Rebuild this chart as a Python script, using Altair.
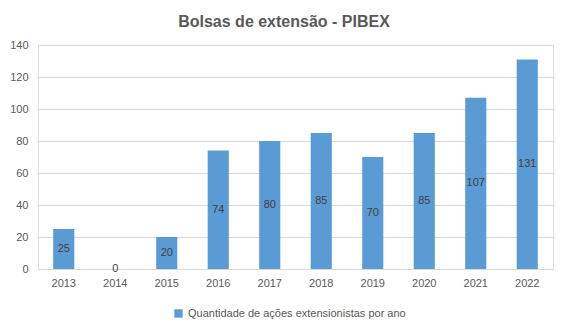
import altair as alt
import pandas as pd

years = ["2013", "2014", "2015", "2016", "2017", "2018", "2019", "2020", "2021", "2022"]
values = [25, 0, 20, 74, 80, 85, 70, 85, 107, 131]
y_ticks = [0, 20, 40, 60, 80, 100, 120, 140]
series_name = "Quantidade de ações extensionistas por ano"
title_text = "Bolsas de extensão - PIBEX"

df = pd.DataFrame({"ano": years, "valor": values, "serie": series_name})
df["meio"] = df["valor"] / 2

FONT = "Liberation Sans"
TXT = "#595959"

x_axis = alt.Axis(labelAngle=0, domain=False, ticks=False, labelPadding=8,
                  labelColor=TXT, labelFont=FONT, labelFontSize=11, grid=False)
y_axis = alt.Axis(values=y_ticks, domain=False, ticks=False,
                  labelPadding=10, labelColor=TXT, labelFont=FONT, labelFontSize=11,
                  labelOverlap=False, gridColor="#D9D9D9", gridWidth=1)
x_scale = alt.Scale(paddingInner=0.59, paddingOuter=0.295)
y_scale = alt.Scale(domain=[0, 140], nice=False)

bars = alt.Chart(df).mark_bar(color="#5B9BD5").encode(
    x=alt.X("ano:N", sort=years, title=None, scale=x_scale, axis=x_axis),
    y=alt.Y("valor:Q", title=None, scale=y_scale, axis=y_axis),
    color=alt.Color("serie:N", scale=alt.Scale(range=["#5B9BD5"]),
                    legend=alt.Legend(title=None, orient="none", legendX=135, legendY=263,
                                      symbolType="square", symbolSize=70, symbolStrokeWidth=0,
                                      labelFont=FONT, labelFontSize=11, labelColor=TXT,
                                      labelLimit=400)),
)

labels = alt.Chart(df).mark_text(font=FONT, fontSize=11, color="#404040",
                                  baseline="middle").encode(
    x=alt.X("ano:N", sort=years, title=None, scale=x_scale, axis=x_axis),
    y=alt.Y("meio:Q", title=None, scale=y_scale, axis=y_axis),
    text=alt.Text("valor:Q"),
)

title = alt.Chart(pd.DataFrame({"t": [title_text]})).mark_text(
    font=FONT, fontSize=16, fontWeight="bold", color=TXT, align="center", baseline="middle"
).encode(x=alt.value(246), y=alt.value(-23), text="t:N")

chart = alt.layer(bars, labels, title).properties(
    width=515, height=224,
    padding={"left": 38, "top": 45, "right": 14, "bottom": 62},
    autosize=alt.AutoSizeParams(type="none"),
).configure_view(stroke="transparent", strokeWidth=0).configure(background="white")

chart.save("out.html", embed_options={"renderer": "svg", "actions": False})
